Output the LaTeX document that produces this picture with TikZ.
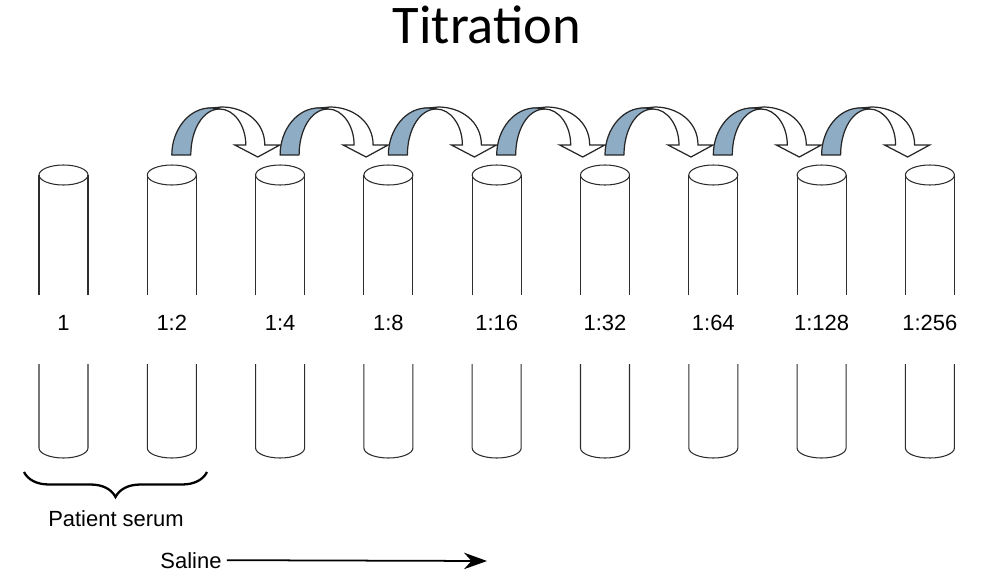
\documentclass[tikz,border=0pt]{standalone}
\usepackage{fontspec}
\setmainfont{Liberation Sans}
\newfontfamily\titlefont{Carlito}
\usetikzlibrary{arrows.meta,decorations.pathreplacing,positioning}
\definecolor{RibbonBlue}{RGB}{142,172,196}
\definecolor{TubeLine}{RGB}{45,45,45}

\begin{document}
\begin{tikzpicture}[x=0.02cm,y=-0.02cm,
        tube/.style={draw=TubeLine,line width=0.6pt},
        ribbon/.style={draw=black!85,fill=RibbonBlue,line width=0.7pt,line join=round},
        ribbonhead/.style={draw=black!85,fill=white,line width=0.7pt,line join=miter},
        dil/.style={font=\fontsize{12.5}{15}\selectfont,inner sep=0pt},
        brc/.style={draw,line width=1.3pt,decorate,
                    decoration={brace,mirror,amplitude=0.5cm}},
        arr/.style={draw,line width=1pt,-{Stealth[length=4.6mm,width=3.3mm]}}
      ]
        \useasboundingbox (0,0) rectangle (984,582);
        \node[anchor=base,inner sep=0pt,font=\titlefont\fontsize{31}{36}\selectfont] (title) at (487,43) {Titration};
        \foreach \i/\lbl in {1/1,2/1:2,3/1:4,4/1:8,5/1:16,6/1:32,7/1:64,8/1:128,9/1:256}{
          \pgfmathsetmacro\cx{63.5+108.3*(\i-1)}
          \draw[tube] (\cx-24.5,295) -- (\cx-24.5,175) (\cx+24.5,175) -- (\cx+24.5,295);
          \draw[tube] (\cx,175) ellipse [x radius=24.5,y radius=10];
          \draw[tube] (\cx-24.5,364) -- (\cx-24.5,448)
            arc [start angle=180,end angle=0,x radius=24.5,y radius=10] -- (\cx+24.5,364);
          \node[dil,anchor=base] (lbl\i) at (\cx,330) {\lbl};
        }
        \foreach \k in {2,...,8}{
          \pgfmathsetmacro\ax{63.5+108.3*(\k-1)}
          \begin{scope}[shift={(\ax,155)}]
            \draw[ribbonhead] (48,-46) .. controls (62,-46) and (74,-30) .. (74,-10)
              -- (63,-10) -- (86,2) -- (108,-10) -- (93,-10)
              .. controls (93,-34) and (72,-48) .. (50,-48) -- (40,-47) -- cycle;
            \draw[ribbon] (0,0) .. controls (0,-26) and (18,-48) .. (40,-47) -- (48,-46)
              .. controls (31,-46) and (19,-25) .. (19,0) -- cycle;
          \end{scope}
        }
        \coordinate (braceL) at (24,472);
        \coordinate (braceR) at (207,472);
        \draw[brc] (braceL) -- (braceR);
        \node[dil,anchor=base] (serum) at (116,526) {Patient serum};
        \node[dil,anchor=base] (saline) at (191,568) {Saline};
        \coordinate (salineEnd) at (487,561);
        \draw[arr,shorten <=0.1cm] (saline.east) -- (salineEnd);
      \end{tikzpicture}
\end{document}
